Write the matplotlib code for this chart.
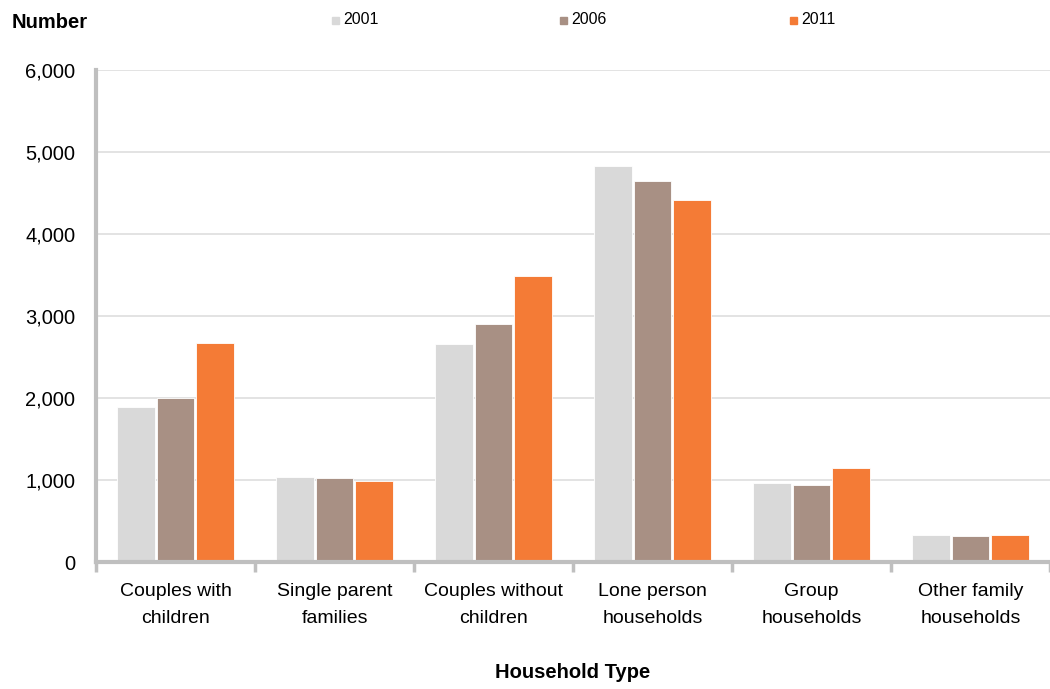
import matplotlib
matplotlib.use("Agg")
import matplotlib.pyplot as plt
import numpy as np

plt.rcParams['font.family'] = ['Liberation Sans', 'DejaVu Sans']

categories = ["Couples with\nchildren", "Single parent\nfamilies", "Couples without\nchildren",
              "Lone person\nhouseholds", "Group\nhouseholds", "Other family\nhouseholds"]
years = ["2001", "2006", "2011"]
values_2001 = [1890, 1037, 2660, 4830, 960, 330]
values_2006 = [2000, 1025, 2900, 4650, 940, 315]
values_2011 = [2670, 990, 3490, 4415, 1145, 330]
yticks = [0, 1000, 2000, 3000, 4000, 5000, 6000]

colors = ["#d9d9d9", "#a89084", "#f47b36"]
series = [values_2001, values_2006, values_2011]

fig = plt.figure(figsize=(10.5, 6.89), dpi=100)
ax = fig.add_axes([96/1050, 1 - 562/689, 1 - 96/1050, (562 - 70)/689])

x = np.arange(len(categories))
width = 0.238
offsets = [-0.25, 0.0, 0.25]
for vals, col, off, yr in zip(series, colors, offsets, years):
    ax.bar(x + off, vals, width=width, color=col, edgecolor='white', linewidth=0.6,
           label=yr, zorder=3)

ax.set_ylim(0, 6000)
ax.set_xlim(-0.5, 5.47)
ax.set_yticks(yticks)
ax.set_yticklabels([f"{v:,}" for v in yticks])
ax.yaxis.grid(True, color='#dedede', linewidth=1.2, zorder=0)
ax.set_axisbelow(True)

ax.set_xticks(x)
ax.set_xticklabels(categories, fontsize=14)
for lbl in ax.get_xticklabels():
    lbl.set_linespacing(1.75)
ax.set_xticks(np.arange(-0.5, 5.6, 1.0), minor=True)
ax.tick_params(axis='x', which='major', length=0, pad=15)
ax.tick_params(axis='x', which='minor', length=7, width=2.5, color='#bfbfbf')
ax.tick_params(axis='y', length=0, pad=15, labelsize=14.5)

for s in ['top', 'right']:
    ax.spines[s].set_visible(False)
for s in ['left', 'bottom']:
    ax.spines[s].set_color('#bfbfbf')
    ax.spines[s].set_linewidth(3)
    ax.spines[s].set_zorder(5)

ax.set_xlabel("Household Type", fontsize=14.5, fontweight='bold', labelpad=26)
fig.text(12/1050, 1 - 23/689, "Number", fontsize=14.5, fontweight='bold', va='center', ha='left')

leg_x = [332, 560, 790]
for lx, col, yr in zip(leg_x, colors, years):
    fig.patches.append(plt.Rectangle((lx/1050, 1 - 24/689), 7/1050, 7/689,
                                     transform=fig.transFigure, color=col, figure=fig))
    fig.text((lx + 11)/1050, 1 - 20/689, yr, fontsize=11.5, va='center', ha='left')

fig.savefig("out.png", dpi=100)
